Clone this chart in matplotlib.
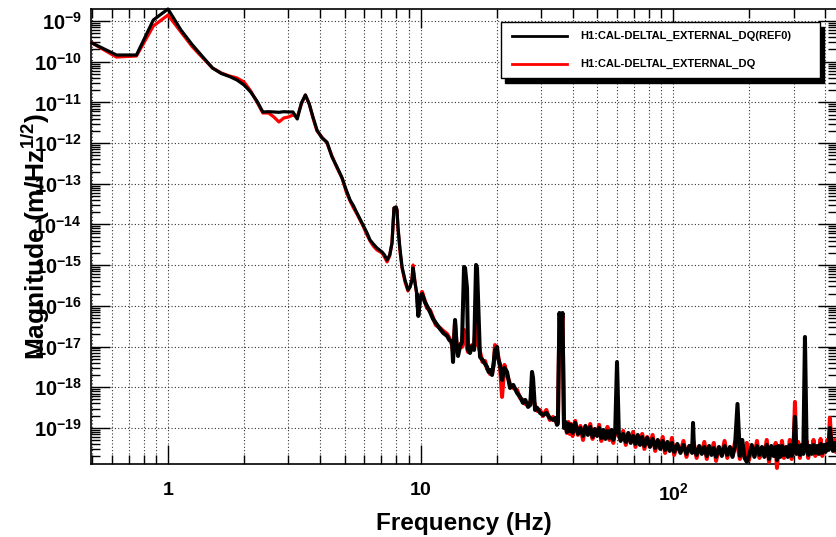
import matplotlib
matplotlib.use('Agg')
import matplotlib.pyplot as plt
from matplotlib.patches import Rectangle
from matplotlib.lines import Line2D
from matplotlib.ticker import FixedLocator, FixedFormatter, LogLocator, NullFormatter

# ---------------- data ----------------
freq_hz = [
    0.5, 0.625, 0.75, 0.875, 1.0, 1.125, 1.25, 1.375, 1.5, 1.625,
    1.75, 1.875, 2.0, 2.125, 2.25, 2.375, 2.5, 2.625, 2.75, 2.875,
    3.0, 3.125, 3.25, 3.375, 3.5, 3.625, 3.75, 3.89, 4.07, 4.26,
    4.46, 4.67, 4.89, 5.08, 5.26, 5.43, 5.6, 5.92, 6.14, 6.31,
    6.5, 6.72, 7.04, 7.2, 7.37, 7.55, 7.71, 7.85, 8.0, 8.07,
    8.14, 8.3, 8.45, 8.68, 8.92, 9.1, 9.25, 9.34, 9.51,
    9.69, 9.8, 9.95, 10.14, 10.4, 10.61, 10.9, 11.21, 11.5, 11.95,
    12.3, 12.74, 13.0, 13.33, 13.45, 13.7, 13.9, 14.08, 14.35, 14.6,
    14.87, 15.01, 15.28, 15.42, 15.7, 16.0, 16.3, 16.59, 16.74, 16.9,
    17.2, 17.6, 18.01, 18.34, 18.6, 18.85, 19.2, 19.5, 19.72, 20.1,
    20.27, 20.65, 21.03, 21.5, 22.01, 22.62, 23.3, 24.11, 24.78, 25.46,
    26.0, 26.66, 27.2, 27.64, 27.9, 28.41, 29.0, 29.74, 30.56, 31.5,
    32.5, 33.48, 34.2, 34.72, 35.0, 35.5, 36.0, 36.5, 37.0,
    37.5, 38, 38.5, 39, 39.5, 40, 41, 42, 43, 44,
    45, 46, 47, 48, 49, 50, 51, 52, 53, 54,
    55, 56, 57, 58, 59, 60, 61, 62, 63.5, 65,
    66.5, 68, 69.5, 71, 72.5, 74, 75.5, 77, 79, 81,
    83, 85, 87, 89, 91, 93, 95, 97, 99, 101,
    104, 107, 110, 113, 116, 119, 120, 121, 124, 127,
    130, 133, 136, 139, 142, 145, 148, 152, 156, 160,
    164, 168, 172, 176, 180, 184, 188, 192, 196, 200,
    205, 210, 215, 220, 225, 230, 235, 240, 245, 250,
    255, 258, 262, 266, 270, 275, 280, 285, 290, 295,
    300, 304, 308, 313, 318, 323, 328, 333, 338, 343,
    348, 354, 360, 366, 372, 378, 384, 390, 396, 402,
    408, 413, 418, 424, 430, 436, 442, 448,
]

# H1:CAL-DELTAL_EXTERNAL_DQ(REF0)  (black)
ref0_mag = [
    2.88e-10, 1.46e-10, 1.46e-10, 1.06e-9, 1.97e-9, 6.01e-10, 2.57e-10, 1.30e-10, 7.00e-11, 5.13e-11,
    4.33e-11, 3.55e-11, 2.68e-11, 1.80e-11, 1.08e-11, 5.81e-12, 5.90e-12, 5.81e-12, 5.70e-12, 5.90e-12,
    5.81e-12, 5.81e-12, 3.91e-12, 9.67e-12, 1.52e-11, 9.14e-12, 4.38e-12, 2.10e-12, 1.33e-12, 1.06e-12,
    4.56e-13, 2.59e-13, 1.39e-13, 7.04e-14, 4.00e-14, 2.85e-14, 1.92e-14, 9.72e-15, 6.18e-15, 4.16e-15,
    3.32e-15, 2.65e-15, 2.11e-15, 1.78e-15, 1.34e-15, 1.78e-15, 3.51e-15, 2.54e-14, 2.69e-14, 2.27e-14,
    8.68e-15, 2.36e-15, 9.03e-16, 4.33e-16, 2.46e-16, 2.91e-16, 4.33e-16, 8.53e-16, 3.65e-16,
    1.85e-16, 5.65e-17, 1.40e-16, 1.96e-16, 1.25e-16, 9.94e-17, 7.08e-17, 4.76e-17, 3.80e-17, 2.71e-17,
    2.16e-17, 1.82e-17, 1.45e-17, 1.30e-17, 4.18e-18, 4.50e-17, 1.09e-17, 5.87e-18, 1.03e-17, 1.30e-17,
    9.03e-16, 8.53e-16, 2.75e-16, 8.25e-18, 6.96e-18, 1.03e-17, 8.25e-18, 1.01e-15, 8.53e-16, 1.40e-16,
    5.55e-18, 4.69e-18, 3.74e-18, 3.15e-18, 2.38e-18, 2.66e-18, 2.00e-18, 4.18e-18, 8.25e-18, 9.78e-18,
    5.25e-18, 3.53e-18, 1.51e-18, 2.98e-18, 2.38e-18, 9.61e-19, 1.14e-18, 7.24e-19, 5.78e-19, 4.11e-19,
    4.88e-19, 3.28e-19, 3.67e-19, 2.38e-18, 1.69e-18, 2.77e-19, 3.10e-19, 2.34e-19, 2.09e-19, 2.34e-19,
    1.76e-19, 1.57e-19, 1.76e-19, 1.19e-19, 1.40e-19, 6.69e-17, 2.56e-17, 6.69e-17, 1.00e-19,
    1.40e-19, 7.97e-20, 1.25e-19, 8.44e-20, 1.19e-19, 7.54e-20, 1.33e-19, 7.12e-20, 1.00e-19, 6.36e-20,
    1.12e-19, 6.73e-20, 1.06e-19, 6.01e-20, 9.45e-20, 6.36e-20, 1.00e-19, 5.68e-20, 8.93e-20, 5.37e-20,
    8.44e-20, 5.68e-20, 8.93e-20, 5.07e-20, 7.97e-20, 4.18e-18, 7.54e-20, 4.79e-20, 7.12e-20, 4.53e-20,
    7.54e-20, 4.28e-20, 6.36e-20, 4.04e-20, 6.73e-20, 3.82e-20, 6.01e-20, 3.61e-20, 5.68e-20, 3.41e-20,
    5.37e-20, 3.23e-20, 5.07e-20, 3.05e-20, 4.79e-20, 2.88e-20, 4.53e-20, 2.72e-20, 4.28e-20, 2.57e-20,
    4.04e-20, 2.43e-20, 3.82e-20, 2.30e-20, 3.61e-20, 2.43e-20, 1.33e-19, 3.41e-20, 2.17e-20, 3.61e-20,
    2.30e-20, 3.41e-20, 2.05e-20, 3.61e-20, 2.17e-20, 3.23e-20, 1.94e-20, 3.41e-20, 2.05e-20, 3.61e-20,
    2.17e-20, 3.41e-20, 1.94e-20, 3.61e-20, 3.89e-19, 2.05e-20, 5.07e-20, 1.83e-20, 1.46e-20, 2.05e-20,
    3.82e-20, 1.94e-20, 3.61e-20, 2.17e-20, 3.41e-20, 1.94e-20, 3.82e-20, 1.73e-20, 3.61e-20, 2.05e-20,
    3.41e-20, 1.64e-20, 3.61e-20, 1.94e-20, 3.61e-20, 2.17e-20, 3.41e-20, 1.94e-20, 3.82e-20, 2.05e-20,
    3.61e-20, 1.86e-19, 2.30e-20, 3.61e-20, 2.17e-20, 3.82e-20, 2.30e-20, 1.72e-17, 3.61e-20, 2.17e-20,
    3.61e-20, 2.30e-20, 3.82e-20, 2.43e-20, 3.61e-20, 2.30e-20, 4.04e-20, 2.43e-20, 3.82e-20, 2.57e-20,
    4.04e-20, 2.88e-20, 1.00e-19, 4.04e-20, 2.72e-20, 4.28e-20, 2.88e-20, 4.28e-20,
]

# H1:CAL-DELTAL_EXTERNAL_DQ  (red)
live_mag = [
    2.88e-10, 1.30e-10, 1.38e-10, 7.54e-10, 1.40e-9, 5.37e-10, 2.30e-10, 1.23e-10, 7.00e-11, 5.28e-11,
    4.45e-11, 3.98e-11, 3.17e-11, 1.91e-11, 1.02e-11, 5.49e-12, 5.49e-12, 4.38e-12, 3.30e-12, 4.14e-12,
    4.38e-12, 4.90e-12, 4.38e-12, 9.14e-12, 1.52e-11, 9.14e-12, 4.14e-12, 1.98e-12, 1.41e-12, 1.01e-12,
    4.82e-13, 2.44e-13, 1.39e-13, 6.29e-14, 3.78e-14, 2.54e-14, 1.81e-14, 9.19e-15, 5.52e-15, 3.93e-15,
    2.96e-15, 2.36e-15, 1.99e-15, 1.59e-15, 1.20e-15, 1.68e-15, 3.51e-15, 2.54e-14, 2.69e-14, 2.27e-14,
    8.20e-15, 2.11e-15, 8.53e-16, 3.87e-16, 2.32e-16, 3.08e-16, 4.58e-16, 1.01e-15, 3.87e-16,
    1.66e-16, 7.08e-17, 1.56e-16, 2.20e-16, 1.32e-16, 8.88e-17, 7.93e-17, 5.04e-17, 3.39e-17, 2.86e-17,
    2.42e-17, 2.04e-17, 1.63e-17, 1.09e-17, 7.37e-18, 3.80e-17, 1.03e-17, 7.37e-18, 1.16e-17, 9.78e-18,
    2.56e-17, 1.45e-17, 9.24e-18, 7.37e-18, 9.24e-18, 1.09e-17, 9.78e-18, 4.50e-17, 2.56e-17, 1.09e-17,
    7.37e-18, 4.18e-18, 4.43e-18, 2.82e-18, 2.66e-18, 2.12e-18, 2.25e-18, 3.53e-18, 1.09e-17, 8.25e-18,
    6.22e-18, 3.15e-18, 5.78e-19, 3.53e-18, 2.00e-18, 1.21e-18, 9.61e-19, 8.59e-19, 5.46e-19, 4.88e-19,
    3.89e-19, 3.67e-19, 4.35e-19, 6.47e-19, 4.88e-19, 3.67e-19, 2.62e-19, 2.77e-19, 1.97e-19, 2.77e-19,
    1.57e-19, 1.86e-19, 1.49e-19, 1.33e-19, 1.25e-19, 5.04e-17, 1.93e-17, 5.65e-17, 1.12e-19,
    1.25e-19, 7.54e-20, 1.40e-19, 7.12e-20, 1.25e-19, 6.36e-20, 1.49e-19, 6.73e-20, 1.12e-19, 5.07e-20,
    1.06e-19, 7.12e-20, 1.25e-19, 5.37e-20, 8.93e-20, 6.73e-20, 1.19e-19, 4.79e-20, 8.44e-20, 5.68e-20,
    1.06e-19, 5.07e-20, 7.97e-20, 4.28e-20, 8.93e-20, 7.12e-20, 6.36e-20, 5.07e-20, 8.44e-20, 3.82e-20,
    7.12e-20, 4.53e-20, 7.97e-20, 3.41e-20, 6.36e-20, 4.04e-20, 7.12e-20, 3.05e-20, 6.01e-20, 3.61e-20,
    6.73e-20, 2.72e-20, 4.79e-20, 3.23e-20, 6.01e-20, 2.43e-20, 4.28e-20, 2.88e-20, 5.68e-20, 2.17e-20,
    3.82e-20, 2.57e-20, 4.79e-20, 1.94e-20, 3.41e-20, 2.57e-20, 5.07e-20, 4.04e-20, 1.83e-20, 3.41e-20,
    2.43e-20, 4.53e-20, 1.73e-20, 3.41e-20, 2.30e-20, 4.28e-20, 1.55e-20, 3.23e-20, 2.17e-20, 4.79e-20,
    1.83e-20, 3.23e-20, 2.05e-20, 4.53e-20, 3.61e-20, 1.73e-20, 3.41e-20, 1.94e-20, 4.28e-20, 1.64e-20,
    3.61e-20, 2.05e-20, 4.79e-20, 1.83e-20, 3.23e-20, 2.05e-20, 5.07e-20, 1.46e-20, 3.41e-20, 2.17e-20,
    4.28e-20, 1.04e-20, 3.41e-20, 2.05e-20, 4.79e-20, 1.83e-20, 3.23e-20, 2.05e-20, 5.07e-20, 1.73e-20,
    3.41e-20, 4.35e-19, 2.43e-20, 4.53e-20, 1.83e-20, 3.61e-20, 2.43e-20, 3.61e-20, 4.79e-20, 1.83e-20,
    3.41e-20, 2.43e-20, 5.07e-20, 2.05e-20, 3.41e-20, 2.43e-20, 5.37e-20, 2.05e-20, 3.61e-20, 2.72e-20,
    5.07e-20, 3.23e-20, 1.76e-19, 3.61e-20, 2.88e-20, 5.07e-20, 2.57e-20, 4.04e-20,
]

series_labels = ["H1:CAL-DELTAL_EXTERNAL_DQ(REF0)", "H1:CAL-DELTAL_EXTERNAL_DQ"]
x_major_ticks = [1, 10, 100]
x_tick_labels = ["$1$", "$10$", "$10^{2}$"]
y_major_ticks = [1e-19, 1e-18, 1e-17, 1e-16, 1e-15, 1e-14, 1e-13, 1e-12, 1e-11, 1e-10, 1e-9]
y_tick_labels = ["$10^{-19}$", "$10^{-18}$", "$10^{-17}$", "$10^{-16}$", "$10^{-15}$",
                 "$10^{-14}$", "$10^{-13}$", "$10^{-12}$", "$10^{-11}$", "$10^{-10}$", "$10^{-9}$"]

# ---------------- style ----------------
plt.rcParams['font.family'] = ['Liberation Sans', 'DejaVu Sans']
plt.rcParams['font.weight'] = 'bold'
plt.rcParams['mathtext.fontset'] = 'custom'
plt.rcParams['mathtext.rm'] = 'Liberation Sans:bold'
plt.rcParams['mathtext.it'] = 'Liberation Sans:bold'
plt.rcParams['mathtext.bf'] = 'Liberation Sans:bold'
plt.rcParams['mathtext.default'] = 'rm'

W, H = 836, 537
fig = plt.figure(figsize=(W / 100, H / 100), dpi=100)
fig.patch.set_facecolor('white')
ax = fig.add_axes([91 / W, 73 / H, 746 / W, 455 / H])

# smooth low-frequency part drawn thinner, noisy high-frequency part (above ~9.7 Hz) thicker
split = 60
for col, mag, z in [('#ff0000', live_mag, 3), ('black', ref0_mag, 4)]:
    ax.plot(freq_hz[:split], mag[:split], color=col, lw=2.3, clip_on=False, zorder=z,
            solid_joinstyle='round')
    ax.plot(freq_hz[split - 1:], mag[split - 1:], color=col, lw=2.9, clip_on=False, zorder=z,
            solid_joinstyle='round')

ax.set_xscale('log')
ax.set_yscale('log')
ax.set_xlim(0.4955, 446)
ax.set_ylim(1.30e-20, 1.97e-9)

ax.xaxis.set_major_locator(FixedLocator(x_major_ticks))
ax.xaxis.set_major_formatter(FixedFormatter(x_tick_labels))
ax.xaxis.set_minor_locator(LogLocator(base=10, subs=range(2, 10), numticks=50))
ax.xaxis.set_minor_formatter(NullFormatter())
ax.yaxis.set_major_locator(FixedLocator(y_major_ticks))
ax.yaxis.set_major_formatter(FixedFormatter(y_tick_labels))
ax.yaxis.set_minor_locator(LogLocator(base=10, subs=range(2, 10), numticks=50))
ax.yaxis.set_minor_formatter(NullFormatter())

ax.tick_params(which='both', direction='in', top=True, right=True, width=1.0, color='black')
ax.tick_params(which='major', length=13.5)
ax.tick_params(which='minor', length=6.5)
ax.tick_params(axis='x', which='major', pad=13, labelsize=14)
ax.tick_params(axis='y', which='major', pad=6.5, labelsize=14.5)

for s in ax.spines.values():
    s.set_linewidth(1.2)

ax.grid(True, which='major', axis='both', linestyle=(0, (1, 2)), color='0.2', lw=0.8)
ax.grid(True, which='minor', axis='x', linestyle=(0, (1, 2)), color='0.2', lw=0.8)
ax.set_axisbelow(True)

ax.set_xlabel('Frequency (Hz)', fontsize=17.5, fontweight='bold')
ax.xaxis.label.set_va('baseline')
ax.xaxis.set_label_coords(0.5, (464 - 530) / 455)

ax.set_ylabel(r'Magnitude (m/Hz$^{1/2}$)', fontsize=19, fontweight='bold')
ax.yaxis.label.set_va('baseline')
ax.yaxis.set_label_coords((45 - 91) / 746, 0.5)

# ---------------- legend (ROOT style box with shadow) ----------------
bx0, bx1, by0, by1 = 501, 820, 22, 78
fig.add_artist(Rectangle(((bx0 + 4) / W, 1 - (by1 + 5) / H),
                         (bx1 - bx0) / W, (by1 - by0) / H, transform=fig.transFigure,
                         facecolor='black', edgecolor='black', zorder=10))
fig.add_artist(Rectangle((bx0 / W, 1 - by1 / H), (bx1 - bx0) / W, (by1 - by0) / H,
                         transform=fig.transFigure, facecolor='white', edgecolor='black',
                         lw=1.0, zorder=11))
for row_y, col, lab in [(36, 'black', series_labels[0]), (64, '#ff0000', series_labels[1])]:
    fig.add_artist(Line2D([512 / W, 567 / W], [1 - row_y / H] * 2, color=col, lw=2.0,
                          transform=fig.transFigure, zorder=12))
    fig.text(580 / W, 1 - row_y / H, lab, fontsize=8, fontweight='bold', va='center',
             ha='left', zorder=12)

fig.savefig('out.png', dpi=100)
